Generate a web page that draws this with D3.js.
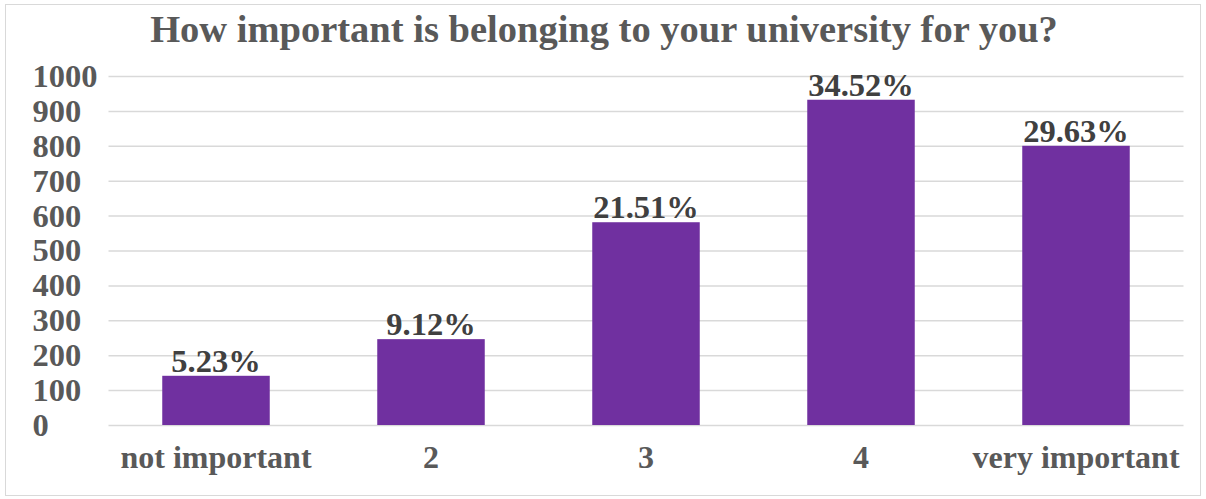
<!DOCTYPE html>
<html><head><meta charset="utf-8">
<script src="https://cdn.jsdelivr.net/npm/d3@7"></script>
<style>body{margin:0;background:#fff}svg{display:block}</style>
</head><body>
<svg id="c" width="1206" height="499"></svg>
<script>
const categories = ["not important", "2", "3", "4", "very important"];
const values = [141, 246, 581, 932, 800];
const labels = ["5.23%", "9.12%", "21.51%", "34.52%", "29.63%"];
const yTicks = [0,100,200,300,400,500,600,700,800,900,1000];
const title = "How important is belonging to your university for you?";

const svg = d3.select("#c");
const m = {left:108.5, right:1183.5, top:76, bottom:425};
const font = "'Liberation Serif','Times New Roman',serif";

svg.append("rect").attr("x",5.5).attr("y",4.5).attr("width",1195).attr("height",491)
  .attr("fill","#fff").attr("stroke","#d9d9d9").attr("stroke-width",1);

const x = d3.scaleBand().domain(categories).range([m.left, m.right]).paddingInner(0.5).paddingOuter(0.25);
const y = d3.scaleLinear().domain([0,1000]).range([m.bottom, m.top]);

const gAxisY = svg.append("g").attr("transform",`translate(${m.left},0)`)
  .call(d3.axisLeft(y).tickValues(yTicks).tickSize(-(m.right-m.left)).tickFormat(d3.format("d")));
gAxisY.select(".domain").remove();
gAxisY.selectAll(".tick line").attr("stroke","#d9d9d9").attr("stroke-width",1.5);
gAxisY.selectAll(".tick text").attr("x",-76).attr("text-anchor","start")
  .attr("font-family",font).attr("font-weight","bold").attr("font-size",32.5).attr("fill","#595959");

svg.append("g").selectAll("rect").data(values).join("rect")
  .attr("x",(d,i)=>x(categories[i])).attr("width",x.bandwidth())
  .attr("y",d=>y(d)).attr("height",d=>y(0)-y(d))
  .attr("fill","#7030A0");

svg.append("g").selectAll("text").data(values).join("text")
  .attr("x",(d,i)=>x(categories[i])+x.bandwidth()/2).attr("y",d=>y(d)-4)
  .attr("text-anchor","middle").attr("font-family",font).attr("font-weight","bold")
  .attr("font-size",32.5).attr("fill","#404040").text((d,i)=>labels[i]);

const gX = svg.append("g").attr("transform",`translate(0,${m.bottom})`)
  .call(d3.axisBottom(x).tickSize(0));
gX.select(".domain").remove();
gX.selectAll(".tick text").attr("y",43).attr("dy",null).attr("font-family",font).attr("font-weight","bold")
  .attr("font-size",32).attr("fill","#595959");

svg.append("text").attr("x",604).attr("y",42).attr("text-anchor","middle")
  .attr("font-family",font).attr("font-weight","bold").attr("font-size",38.5).attr("fill","#595959")
  .text(title);
</script>
</body></html>
